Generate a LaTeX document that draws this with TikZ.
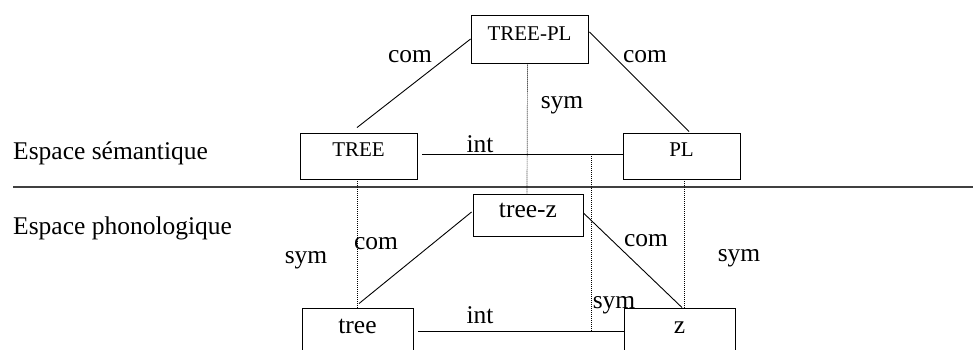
\documentclass[tikz,border=0pt]{standalone}
\usepackage{fontspec}
\setmainfont{Liberation Serif}
\usetikzlibrary{calc}
\begin{document}
\begin{tikzpicture}[x=1pt,y=-1pt,
 box/.style={draw,line width=0.9pt,inner sep=0pt,text height=13pt,text depth=13pt},
 big/.style={font=\fontsize{25.5}{30}\selectfont},
 small/.style={font=\fontsize{21}{25}\selectfont},
 lab/.style={anchor=base,inner sep=0pt,font=\fontsize{25.5}{30}\selectfont},
 conn/.style={line width=0.9pt},
 dotl/.style={line width=0.7pt,dash pattern=on 1pt off 1pt},
 sepl/.style={line width=1.2pt,black!75}]
\clip (0,0) rectangle (973,350);
% boxes
\node[box,small,minimum width=117pt,minimum height=48pt,text height=14pt,text depth=10pt] (TREEPL) at (529.5,39) {TREE-PL};
\node[box,small,minimum width=117pt,minimum height=46pt] (TREE) at (358.5,156) {TREE};
\node[box,small,minimum width=117pt,minimum height=46pt] (PL) at (681.5,156) {PL};
\node[box,big,minimum width=110pt,minimum height=42pt,text height=14pt,text depth=10pt] (treez) at (528,215) {tree-z};
\node[box,big,minimum width=111pt,minimum height=50pt] (tree) at (357.5,333) {tree};
\node[box,big,minimum width=111pt,minimum height=50pt] (z) at (679.5,333) {z};
% coordinates
\coordinate (s1) at (13,187);
\coordinate (s2) at (973,187);
\coordinate (d1) at (591,154);
\coordinate (d2) at (591,332);
% separator
\draw[sepl] (s1) -- (s2);
% connectors upper
\draw[conn] (TREEPL.west) -- ($(TREE.north)+(-1.5,-5)$);
\draw[conn] ($(TREEPL.east)+(1,-7)$) -- ($(PL.north)+(7.5,-1)$);
\draw[conn] ($(TREE.east)+(5,-2)$) -- ($(PL.west)+(0,-2)$);
% dotted
\draw[dotl] ($(TREEPL.south)+(-2,0)$) -- ($(treez.north)+(-1,0)$);
\draw[dotl] ($(TREE.south)+(-1.5,0)$) -- ($(tree.north)+(-0.5,0)$);
\draw[dotl] ($(PL.south)+(2.5,0)$) -- ($(z.north)+(4.5,0)$);
\draw[dotl] (d1) -- (d2);
% connectors lower
\draw[conn] ($(treez.west)+(-1,-3)$) -- ($(tree.north)+(1.5,-4)$);
\draw[conn] ($(treez.east)+(0,-2)$) -- ($(z.north)+(2.5,0)$);
\draw[conn] ($(tree.east)+(5,-2)$) -- ($(z.west)+(0,-2)$);
% labels
\node[lab,anchor=base west] (esem) at (13,159) {Espace sémantique};
\node[lab,anchor=base west] (ephon) at (13,234) {Espace phonologique};
\node[lab] (c1) at (410,63) {com};
\node[lab] (c2) at (645,63) {com};
\node[lab] (s0) at (562,108) {sym};
\node[lab] (i1) at (480,152) {int};
\node[lab] (c3) at (376,249) {com};
\node[lab] (sl) at (306,263) {sym};
\node[lab] (c4) at (646,246) {com};
\node[lab] (sr) at (739,261) {sym};
\node[lab] (sz) at (614,308) {sym};
\node[lab] (i2) at (480,323) {int};
\end{tikzpicture}
\end{document}
